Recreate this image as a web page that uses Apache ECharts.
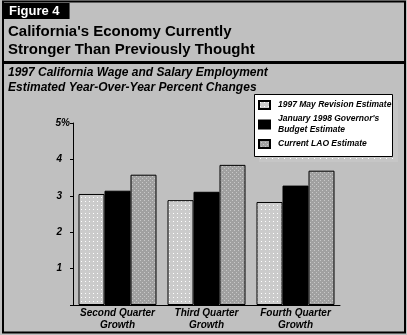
<!DOCTYPE html>
<html>
<head>
<meta charset="utf-8">
<script src="https://cdn.jsdelivr.net/npm/echarts@6/dist/echarts.min.js"></script>
<style>
html,body{margin:0;padding:0;background:#c0c0c0;}
#chart{width:407px;height:335px;}
</style>
</head>
<body>
<div id="chart"></div>
<script>
// ---- Data ----
const categories = ['Second Quarter\nGrowth', 'Third Quarter\nGrowth', 'Fourth Quarter\nGrowth'];
const seriesNames = ['1997 May Revision Estimate', "January 1998 Governor's\nBudget Estimate", 'Current LAO Estimate'];
const mayRevision = [3.05, 2.88, 2.83];
const governorsBudget = [3.14, 3.11, 3.28];
const currentLAO = [3.58, 3.85, 3.69];
const yTicks = [0, 1, 2, 3, 4, 5];

const FONT = "'Liberation Sans', Arial, sans-serif";

function makePattern(bg, dot, w, h, dots) {
  const c = document.createElement('canvas');
  c.width = w; c.height = h;
  const ctx = c.getContext('2d');
  ctx.fillStyle = bg; ctx.fillRect(0, 0, w, h);
  ctx.fillStyle = dot;
  dots.forEach(d => ctx.fillRect(d[0], d[1], 1, 1));
  return { image: c, repeat: 'repeat' };
}
const patLight = makePattern('#cbcbcb', '#ffffff', 4, 4, [[1, 1]]);
const patDark = makePattern('#a0a0a0', '#c8c8c8', 4, 4, [[0, 0], [2, 2]]);
const patShadow = makePattern('#c6c6c6', '#ffffff', 6, 6, [[2, 2]]);

const chart = echarts.init(document.getElementById('chart'), null, { renderer: 'canvas' });
const option = {
  animation: false,
  backgroundColor: '#c0c0c0',
  textStyle: { fontFamily: FONT },
  title: [
    {
      text: 'Figure 4', left: 3, top: 3, padding: [2, 10, 1, 6], backgroundColor: '#000',
      textStyle: { color: '#fff', fontSize: 13, fontWeight: 'bold', fontFamily: FONT, lineHeight: 13 }
    },
    {
      text: "California's Economy Currently\nStronger Than Previously Thought", left: 8, top: 23, padding: 0,
      textStyle: { color: '#000', fontSize: 15, fontWeight: 'bold', fontFamily: FONT, lineHeight: 18 }
    },
    {
      text: '1997 California Wage and Salary Employment\nEstimated Year-Over-Year Percent Changes', left: 8, top: 65, padding: 0,
      textStyle: { color: '#000', fontSize: 12, fontWeight: 'bold', fontStyle: 'italic', fontFamily: FONT, lineHeight: 15 }
    }
  ],
  graphic: [
    { type: 'rect', z: -1, shape: { x: 3, y: 1.5, width: 402, height: 331 }, style: { fill: 'none', stroke: '#000', lineWidth: 2 } },
    { type: 'rect', z: -1, shape: { x: 3, y: 61, width: 402, height: 3 }, style: { fill: '#000' } },
    { type: 'rect', z: 0, shape: { x: 259, y: 100, width: 139, height: 62 }, style: { fill: patShadow } },
    { type: 'rect', z: 1, shape: { x: 254.5, y: 94.5, width: 138, height: 62 }, style: { fill: '#fff', stroke: '#000', lineWidth: 1 } }
  ],
  legend: {
    orient: 'vertical', left: 258, top: 99.5, padding: 0, z: 5,
    itemWidth: 11, itemHeight: 8, itemGap: 3,
    icon: 'rect',
    data: seriesNames,
    textStyle: { fontSize: 8.5, fontWeight: 'bold', fontStyle: 'italic', color: '#000', fontFamily: FONT, lineHeight: 11, padding: [0, 0, 0, 3] }
  },
  grid: { left: 73, right: 67, top: 123, bottom: 30, containLabel: false },
  xAxis: {
    type: 'category', data: categories,
    axisLine: { lineStyle: { color: '#000', width: 1 } },
    axisTick: { show: false },
    axisLabel: { interval: 0, margin: 2, fontSize: 10, fontWeight: 'bold', fontStyle: 'italic', color: '#000', lineHeight: 12, fontFamily: FONT }
  },
  yAxis: {
    type: 'value', min: yTicks[0], max: yTicks[yTicks.length - 1], interval: 1,
    splitLine: { show: false },
    axisLine: { show: true, lineStyle: { color: '#000', width: 1 } },
    axisTick: { show: true, length: 3, lineStyle: { color: '#000' } },
    axisLabel: {
      margin: 3, fontSize: 10, fontWeight: 'bold', fontStyle: 'italic', color: '#000', fontFamily: FONT,
      formatter: v => v === 0 ? '' : (v === 5 ? v + '%' : '{n|' + v + '}'),
      rich: { n: { padding: [0, 8, 0, 0], fontSize: 10, fontWeight: 'bold', fontStyle: 'italic', fontFamily: FONT } }
    }
  },
  series: [
    { name: seriesNames[0], type: 'bar', data: mayRevision, barWidth: 26, barGap: '0%',
      itemStyle: { color: patLight, borderColor: '#000', borderWidth: 1 } },
    { name: seriesNames[1], type: 'bar', data: governorsBudget, barWidth: 26, barGap: '0%',
      itemStyle: { color: '#000', borderColor: '#000', borderWidth: 1 } },
    { name: seriesNames[2], type: 'bar', data: currentLAO, barWidth: 26, barGap: '0%',
      itemStyle: { color: patDark, borderColor: '#000', borderWidth: 1 } }
  ]
};
chart.setOption(option);
</script>
</body>
</html>
